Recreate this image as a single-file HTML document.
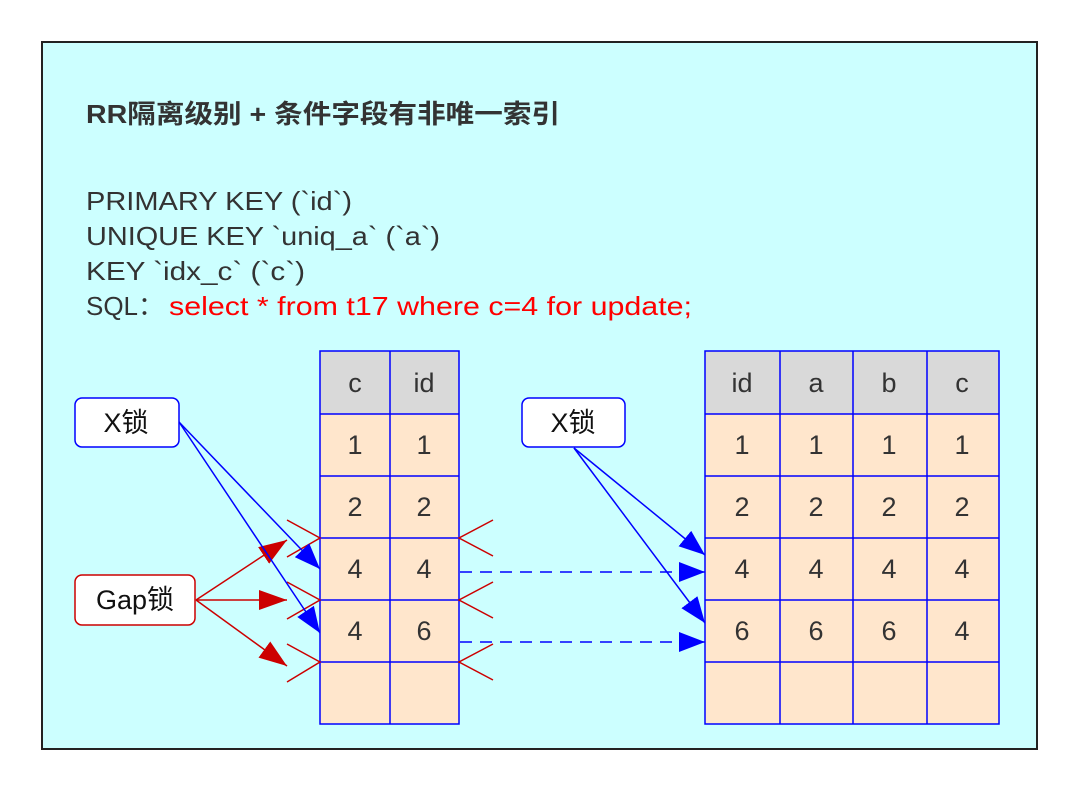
<!DOCTYPE html>
<html><head><meta charset="utf-8"><style>
html,body{margin:0;padding:0;background:#fff;}
svg{display:block;}
text{font-family:"Liberation Sans","Noto Sans CJK SC",sans-serif;}
</style></head><body>
<svg width="1080" height="792" viewBox="0 0 1080 792" xmlns="http://www.w3.org/2000/svg">
<defs>
<marker id="rb" markerUnits="userSpaceOnUse" markerWidth="28" markerHeight="20" refX="28" refY="10" orient="auto"><path d="M0,0 L28,10 L0,20 z" fill="#cc0000"/></marker>
<marker id="bb" markerUnits="userSpaceOnUse" markerWidth="26" markerHeight="20" refX="26" refY="10" orient="auto"><path d="M0,0 L26,10 L0,20 z" fill="#0000ff"/></marker>
</defs>
<rect x="42" y="42" width="995" height="707" fill="#ccffff" stroke="#222" stroke-width="2"/>
<text x="86" y="123" font-size="26" font-weight="bold" fill="#333" textLength="474" lengthAdjust="spacingAndGlyphs">RR隔离级别 + 条件字段有非唯一索引</text>
<g font-size="26" fill="#333">
<text x="86" y="210" textLength="266" lengthAdjust="spacingAndGlyphs">PRIMARY KEY (`id`)</text>
<text x="86" y="245" textLength="354" lengthAdjust="spacingAndGlyphs">UNIQUE KEY `uniq_a` (`a`)</text>
<text x="86" y="280" textLength="219" lengthAdjust="spacingAndGlyphs">KEY `idx_c` (`c`)</text>
<text x="86" y="315" textLength="78" lengthAdjust="spacingAndGlyphs">SQL：</text>
<text x="169" y="315" fill="#ff0000" textLength="523" lengthAdjust="spacingAndGlyphs">select * from t17 where c=4 for update;</text>
</g>
<!-- left table -->
<rect x="320" y="351" width="139" height="63" fill="#d9d9d9"/>
<rect x="320" y="414" width="139" height="310" fill="#ffe6cc"/>
<g stroke="#0000ff" stroke-width="1.5" fill="none">
<rect x="320" y="351" width="139" height="373"/>
<line x1="390" y1="351" x2="390" y2="724"/>
<line x1="320" y1="414" x2="459" y2="414"/>
<line x1="320" y1="476" x2="459" y2="476"/>
<line x1="320" y1="538" x2="459" y2="538"/>
<line x1="320" y1="600" x2="459" y2="600"/>
<line x1="320" y1="662" x2="459" y2="662"/>
</g>
<g font-size="27" fill="#333" text-anchor="middle">
<text x="355" y="392">c</text><text x="424" y="392">id</text>
<text x="355" y="454">1</text><text x="424" y="454">1</text>
<text x="355" y="516">2</text><text x="424" y="516">2</text>
<text x="355" y="578">4</text><text x="424" y="578">4</text>
<text x="355" y="640">4</text><text x="424" y="640">6</text>
</g>
<!-- right table -->
<rect x="705" y="351" width="294" height="63" fill="#d9d9d9"/>
<rect x="705" y="414" width="294" height="310" fill="#ffe6cc"/>
<g stroke="#0000ff" stroke-width="1.5" fill="none">
<rect x="705" y="351" width="294" height="373"/>
<line x1="780" y1="351" x2="780" y2="724"/>
<line x1="853" y1="351" x2="853" y2="724"/>
<line x1="927" y1="351" x2="927" y2="724"/>
<line x1="705" y1="414" x2="999" y2="414"/>
<line x1="705" y1="476" x2="999" y2="476"/>
<line x1="705" y1="538" x2="999" y2="538"/>
<line x1="705" y1="600" x2="999" y2="600"/>
<line x1="705" y1="662" x2="999" y2="662"/>
</g>
<g font-size="27" fill="#333" text-anchor="middle">
<text x="742" y="392">id</text><text x="816" y="392">a</text><text x="889" y="392">b</text><text x="962" y="392">c</text>
<text x="742" y="454">1</text><text x="816" y="454">1</text><text x="889" y="454">1</text><text x="962" y="454">1</text>
<text x="742" y="516">2</text><text x="816" y="516">2</text><text x="889" y="516">2</text><text x="962" y="516">2</text>
<text x="742" y="578">4</text><text x="816" y="578">4</text><text x="889" y="578">4</text><text x="962" y="578">4</text>
<text x="742" y="640">6</text><text x="816" y="640">6</text><text x="889" y="640">6</text><text x="962" y="640">4</text>
</g>
<!-- chevrons -->
<g stroke="#cc0000" stroke-width="1.5" fill="none">
<polyline points="287,520 320,538 287,557"/>
<polyline points="287,582 320,600 287,619"/>
<polyline points="287,644 320,662 287,682"/>
<polyline points="493,520 459,538 493,556"/>
<polyline points="493,582 459,600 493,618"/>
<polyline points="493,644 459,662 493,680"/>
</g>
<!-- red arrows -->
<g stroke="#cc0000" stroke-width="1.5" fill="none">
<line x1="196" y1="600" x2="287" y2="540" marker-end="url(#rb)"/>
<line x1="196" y1="600" x2="287" y2="600" marker-end="url(#rb)"/>
<line x1="196" y1="600" x2="287" y2="666" marker-end="url(#rb)"/>
</g>
<!-- blue arrows -->
<g stroke="#0000ff" stroke-width="1.5" fill="none">
<line x1="179" y1="422" x2="320" y2="569" marker-end="url(#bb)"/>
<line x1="179" y1="422" x2="320" y2="633" marker-end="url(#bb)"/>
<line x1="574" y1="448" x2="705" y2="555" marker-end="url(#bb)"/>
<line x1="574" y1="448" x2="705" y2="623" marker-end="url(#bb)"/>
<line x1="460" y1="572" x2="705" y2="572" stroke-dasharray="12,8" marker-end="url(#bb)"/>
<line x1="460" y1="642" x2="705" y2="642" stroke-dasharray="12,8" marker-end="url(#bb)"/>
</g>
<!-- boxes -->
<rect x="75" y="398" width="104" height="49" rx="7" fill="#fff" stroke="#0000ff" stroke-width="1.5"/>
<text x="126" y="432" font-size="27" fill="#111" text-anchor="middle">X锁</text>
<rect x="522" y="398" width="103" height="49" rx="7" fill="#fff" stroke="#0000ff" stroke-width="1.5"/>
<text x="573" y="432" font-size="27" fill="#111" text-anchor="middle">X锁</text>
<rect x="75" y="575" width="120" height="50" rx="7" fill="#fff" stroke="#cc0000" stroke-width="1.5"/>
<text x="135" y="609" font-size="27" fill="#111" text-anchor="middle">Gap锁</text>
</svg>
</body></html>
